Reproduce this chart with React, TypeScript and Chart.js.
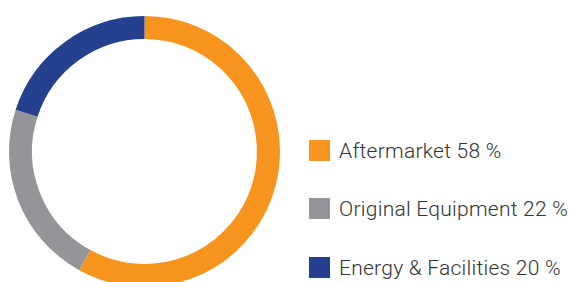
import React, { useEffect, useRef } from "react";
import { Chart, registerables } from "chart.js";

Chart.register(...registerables);

const categories = ["Aftermarket", "Original Equipment", "Energy & Facilities"];
const shares = [58, 22, 20];
const colors = ["#F7941D", "#939598", "#25408F"];
const legendLabels = categories.map((c, i) => `${c} ${shares[i]} %`);

const legendTops = [140, 198, 257];

export default function App() {
  const ref = useRef<HTMLCanvasElement | null>(null);

  useEffect(() => {
    if (!ref.current) return;
    const chart = new Chart(ref.current, {
      type: "doughnut",
      data: {
        labels: categories,
        datasets: [
          {
            data: shares,
            backgroundColor: colors,
            borderWidth: 0,
          },
        ],
      },
      options: {
        responsive: false,
        animation: false,
        cutout: "83%",
        rotation: 0,
        layout: { padding: { left: 9, top: 16, right: 10, bottom: 33 } },
        plugins: {
          legend: { display: false },
          tooltip: { enabled: false },
        },
      },
    });
    return () => chart.destroy();
  }, []);

  return (
    <div
      style={{
        position: "absolute",
        left: 0,
        top: 0,
        width: 569,
        height: 282,
        overflow: "hidden",
        background: "#ffffff",
      }}
    >
      <canvas
        ref={ref}
        width={290}
        height={320}
        style={{ position: "absolute", left: 0, top: 0, width: 290, height: 320 }}
      />
      {legendLabels.map((label, i) => (
        <div key={label}>
          <div
            style={{
              position: "absolute",
              left: 309,
              top: legendTops[i],
              width: 21,
              height: 21,
              background: colors[i],
            }}
          />
          <div
            style={{
              position: "absolute",
              left: 339,
              top: legendTops[i] - 1,
              fontFamily: "Roboto, sans-serif",
              fontWeight: 300,
              fontSize: 21,
              letterSpacing: "0.25px",
              lineHeight: "24px",
              color: "#333333",
              whiteSpace: "nowrap",
            }}
          >
            {label}
          </div>
        </div>
      ))}
    </div>
  );
}
